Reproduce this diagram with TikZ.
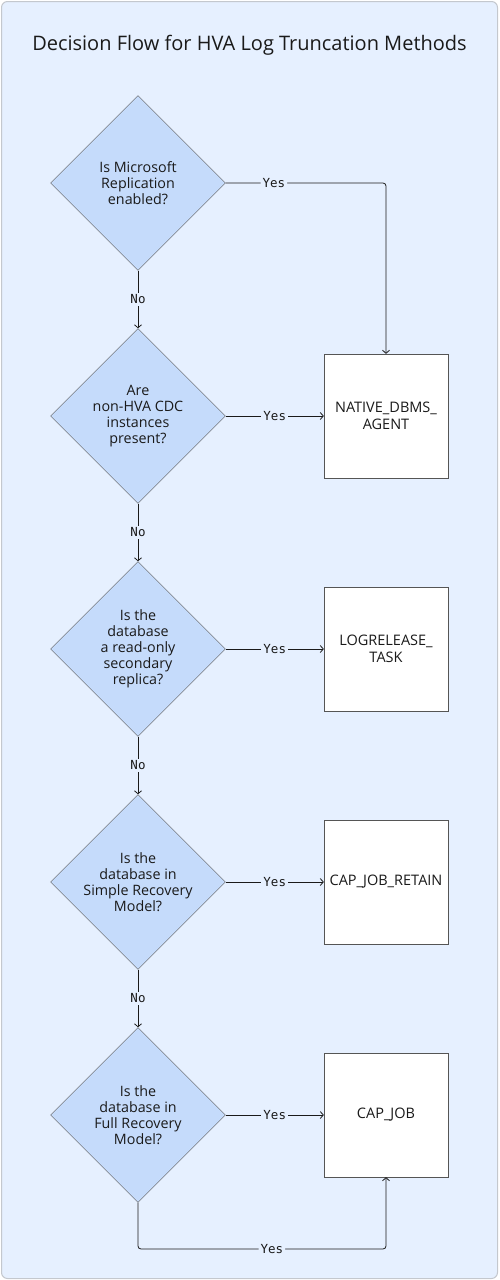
\documentclass[tikz,border=0pt]{standalone}
\usepackage{fontspec}
\setmainfont{Open Sans}
\newfontfamily\labelfont{DejaVu Sans Mono}
\usepackage{tikz}
\usetikzlibrary{shapes.geometric,arrows.meta,calc}

\definecolor{panelbg}{HTML}{E6F0FF}
\definecolor{panelrim}{HTML}{C4C8CE}
\definecolor{askfill}{HTML}{C5DBFB}
\definecolor{rim}{HTML}{555555}
\definecolor{ink}{HTML}{1A1A1A}

\begin{document}
\begin{tikzpicture}[x=1pt, y=-1pt,
    decision/.style={draw=rim, fill=askfill, diamond, shape aspect=1, minimum size=175pt,
      inner sep=0pt, align=center, text=ink, font=\fontsize{14.3}{16}\selectfont},
    method/.style={draw=rim, fill=white, minimum size=124pt, inner sep=2pt, align=center,
      text=ink, font=\fontsize{14.5}{16.5}\selectfont},
    flow/.style={draw=ink, line width=0.8pt, -{Straight Barb[length=3pt,width=7pt]}},
    lbl/.style={fill=panelbg, inner sep=2pt, text=ink, font=\labelfont\fontsize{12.5}{14}\selectfont}]
  \useasboundingbox (0,0) rectangle (499,1280);
  \draw[draw=panelrim, fill=panelbg, rounded corners=6pt, line width=1pt] (1.5,1.5) rectangle (497.5,1278.5);

  \node[text=ink, font=\fontsize{20}{24}\selectfont] (title) at (249.5,45) {Decision Flow for HVA Log Truncation Methods};

  % questions
  \node[decision] (d1) at (138,183) {Is Microsoft\\Replication\\enabled?};
  \node[decision] (d2) at (138,416) {Are\\non-HVA CDC\\instances\\present?};
  \node[decision] (d3) at (138,649) {Is the\\database\\a read-only\\secondary\\replica?};
  \node[decision] (d4) at (138,882) {Is the\\database in\\Simple Recovery\\Model?};
  \node[decision] (d5) at (138,1115) {Is the\\database in\\Full Recovery\\Model?};

  % methods
  \node[method] (m1) at (386,416) {NATIVE\_DBMS\_\\AGENT};
  \node[method] (m2) at (386,649) {LOGRELEASE\_\\TASK};
  \node[method] (m3) at (386,882) {CAP\_JOB\_RETAIN};
  \node[method] (m4) at (386,1115) {CAP\_JOB};

  \coordinate (back) at (386,1249);

  \draw[flow, rounded corners=3pt] (d1.east) -| node[lbl, pos=0.15] {Yes} (m1.north);
  \draw[flow] (d1.south) -- node[lbl] {No} (d2.north);
  \draw[flow] (d2.east) -- node[lbl] {Yes} (m1.west);
  \draw[flow] (d2.south) -- node[lbl] {No} (d3.north);
  \draw[flow] (d3.east) -- node[lbl] {Yes} (m2.west);
  \draw[flow] (d3.south) -- node[lbl] {No} (d4.north);
  \draw[flow] (d4.east) -- node[lbl] {Yes} (m3.west);
  \draw[flow] (d4.south) -- node[lbl] {No} (d5.north);
  \draw[flow] (d5.east) -- node[lbl] {Yes} (m4.west);
  \draw[flow, rounded corners=3pt] (d5.south) |- node[lbl, pos=0.77] {Yes} (back) -- (m4.south);
\end{tikzpicture}
\end{document}
